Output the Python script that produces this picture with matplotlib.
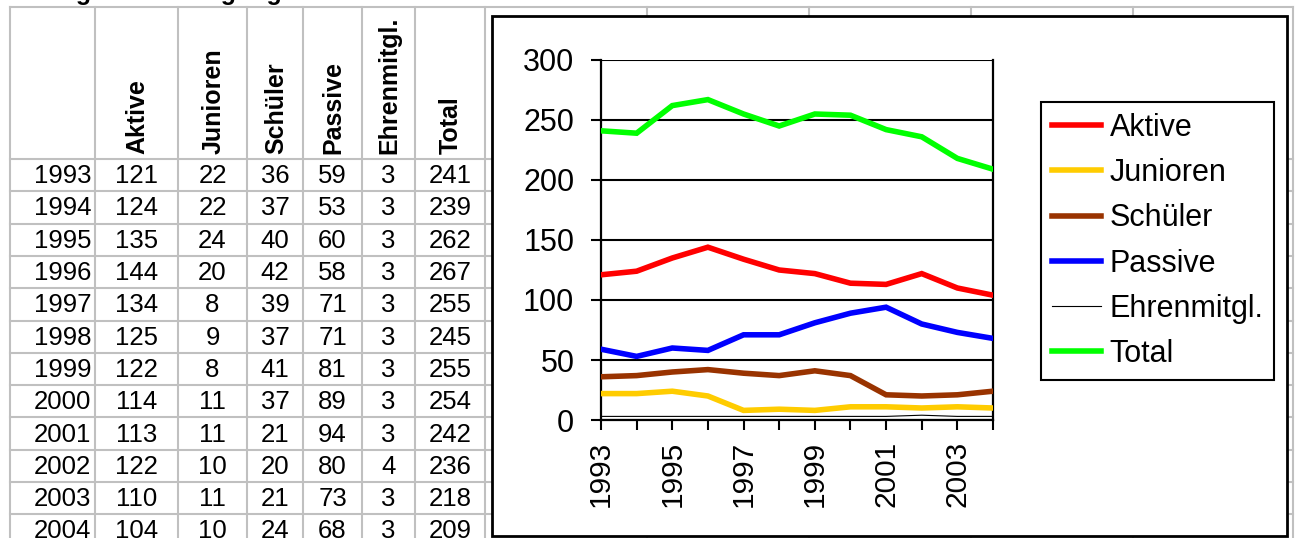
import matplotlib
matplotlib.use("Agg")
import matplotlib.pyplot as plt
from matplotlib.patches import Rectangle

plt.rcParams['font.family'] = ['Liberation Sans', 'DejaVu Sans']

# ---------------- data ----------------
years = [1993, 1994, 1995, 1996, 1997, 1998, 1999, 2000, 2001, 2002, 2003, 2004]
aktive = [121, 124, 135, 144, 134, 125, 122, 114, 113, 122, 110, 104]
junioren = [22, 22, 24, 20, 8, 9, 8, 11, 11, 10, 11, 10]
schueler = [36, 37, 40, 42, 39, 37, 41, 37, 21, 20, 21, 24]
passive = [59, 53, 60, 58, 71, 71, 81, 89, 94, 80, 73, 68]
ehren = [3, 3, 3, 3, 3, 3, 3, 3, 3, 4, 3, 3]
total = [241, 239, 262, 267, 255, 245, 255, 254, 242, 236, 218, 209]

series_names = ["Aktive", "Junioren", "Schüler", "Passive", "Ehrenmitgl.", "Total"]
series_vals = [aktive, junioren, schueler, passive, ehren, total]
series_colors = ["#FF0000", "#FFCC00", "#993300", "#0000FF", "#000000", "#00FF00"]
series_widths = [4.0, 4.0, 4.0, 4.0, 0.8, 4.0]

y_ticks = [0, 50, 100, 150, 200, 250, 300]
x_label_years = [1993, 1995, 1997, 1999, 2001, 2003]

# ---------------- figure ----------------
W, H = 1295, 538
fig = plt.figure(figsize=(W / 100, H / 100), dpi=100)
bg = fig.add_axes([0, 0, 1, 1])
bg.set_xlim(0, W)
bg.set_ylim(H, 0)
bg.axis("off")

grid_c = "#C0C0C0"
glw = 1.5
col_x = [10, 95, 178, 247, 303, 362, 415, 485, 647, 809, 971, 1133, 1293]
row_top = 7
row0 = 159
row_h = 32.3
row_lines = [row_top] + [row0 + row_h * k for k in range(13)]

for x in col_x:
    bg.plot([x, x], [row_top, H], color=grid_c, lw=glw, zorder=1)
for y in row_lines:
    if y <= H:
        bg.plot([col_x[0], col_x[-1]], [y, y], color=grid_c, lw=glw, zorder=1)

# cropped title at very top (only its lowest pixels are visible)
bg.text(40, 0, "Mitgliederbewegung", fontsize=18, fontweight="bold",
        ha="left", va="baseline", zorder=2)

# header
for j, name in enumerate(series_names):
    cx = (col_x[j + 1] + col_x[j + 2]) / 2
    bg.text(cx + 1, 154, name, rotation=90, fontsize=18, fontweight="bold",
            ha="center", va="bottom", zorder=2)

# table rows
for i, yr in enumerate(years):
    cy = row0 + row_h * (i + 0.5) + 1
    bg.text(91, cy, str(yr), fontsize=18.5, ha="right", va="center", zorder=2)
    for j, vals in enumerate(series_vals):
        cx = (col_x[j + 1] + col_x[j + 2]) / 2
        bg.text(cx, cy, str(vals[i]), fontsize=18.5, ha="center", va="center", zorder=2)

# chart box
bg.add_patch(Rectangle((492, 16), 1287 - 492, 536 - 16, facecolor="white",
                       edgecolor="black", lw=2.0, zorder=5))

# ---------------- chart ----------------
pl, pr, pt, pb = 601, 993, 60, 420
ax = fig.add_axes([pl / W, 1 - pb / H, (pr - pl) / W, (pb - pt) / H], zorder=10)
ax.set_facecolor("none")
for name, vals, c, lw in zip(series_names, series_vals, series_colors, series_widths):
    ax.plot(years, vals, color=c, lw=lw, label=name, solid_joinstyle="miter", zorder=3)

ax.set_xlim(years[0], years[-1])
ax.set_ylim(0, 300)
ax.set_yticks(y_ticks)
ax.set_yticklabels([str(v) for v in y_ticks])
ax.set_xticks(years)
ax.set_xticklabels([str(y) if y in x_label_years else "" for y in years], rotation=90)
ax.yaxis.grid(True, color="black", lw=1.5)
ax.set_axisbelow(True)
for s in ["left", "bottom", "right"]:
    ax.spines[s].set_linewidth(1.6)
    ax.spines[s].set_color("black")
ax.spines["top"].set_visible(False)
ax.tick_params(axis="y", direction="out", length=7.2, width=1.5, pad=12, labelsize=22)
ax.tick_params(axis="x", direction="out", length=7.2, width=1.5, pad=8, labelsize=21.5)

leg = ax.legend(loc="upper left", bbox_to_anchor=(1041 / W, 1 - 102 / H),
                bbox_transform=fig.transFigure, borderaxespad=0, fontsize=22,
                frameon=True, fancybox=False, edgecolor="black", framealpha=1,
                handlelength=1.6, handletextpad=0.3, labelspacing=0.5,
                borderpad=0.35)
leg.get_frame().set_linewidth(1.5)

fig.savefig("out.png", dpi=100)
